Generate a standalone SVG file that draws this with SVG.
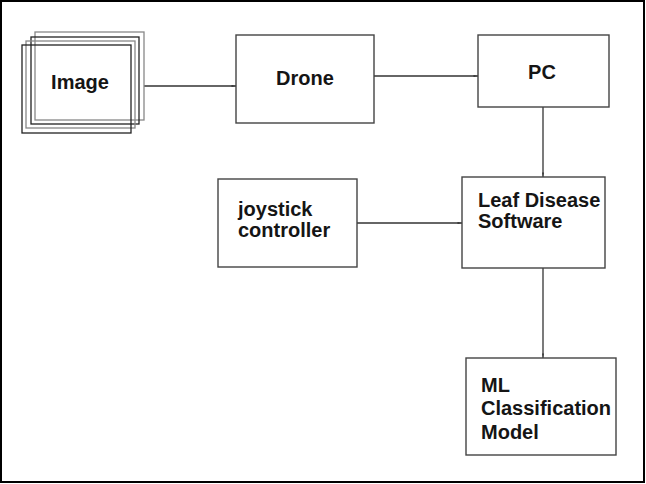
<svg xmlns="http://www.w3.org/2000/svg" width="646" height="484" viewBox="0 0 646 484">
<style>
.box{fill:#fff;stroke:#444;stroke-width:1.4}
.stk{fill:none;stroke-width:1.3}
.t{font-family:"Liberation Sans",Arial,sans-serif;font-weight:bold;font-size:20px;fill:#151515}
.c{stroke:#333;stroke-width:1.3;fill:none;marker-end:url(#ah)}
</style>
<defs>
<marker id="ah" viewBox="0 0 6 4" refX="6" refY="2" markerWidth="5" markerHeight="3" markerUnits="userSpaceOnUse" orient="auto">
<path d="M0,0.8 L6,2 L0,3.2 z" fill="#333"/>
</marker>
</defs>
<rect x="1" y="1" width="643" height="481" fill="#fff" stroke="#000" stroke-width="2"/>
<g id="connectors">
<line class="c" x1="144" y1="86" x2="236" y2="86"/>
<line class="c" x1="374" y1="76" x2="478" y2="76"/>
<line class="c" x1="543" y1="107" x2="543" y2="177"/>
<line class="c" x1="357" y1="223" x2="462" y2="223"/>
<line class="c" x1="543" y1="268" x2="543" y2="358"/>
</g>
<g id="image">
<rect class="stk" x="35" y="32" width="109" height="88" stroke="#888"/>
<rect class="stk" x="31" y="37" width="108" height="87" stroke="#222"/>
<rect class="stk" x="26" y="41" width="109" height="87" stroke="#888"/>
<rect class="stk" x="22" y="45" width="109" height="88" stroke="#222"/>
<text class="t" x="80" y="89" text-anchor="middle">Image</text>
</g>
<g id="drone">
<rect class="box" x="236" y="35" width="138" height="88"/>
<text class="t" x="305" y="85" text-anchor="middle">Drone</text>
</g>
<g id="pc">
<rect class="box" x="478" y="35" width="131" height="72"/>
<text class="t" x="542" y="79" text-anchor="middle">PC</text>
</g>
<g id="joystick">
<rect class="box" x="218" y="179" width="139" height="88"/>
<text class="t" x="238" y="216">joystick</text>
<text class="t" x="238" y="237">controller</text>
</g>
<g id="leaf">
<rect class="box" x="462" y="177" width="143" height="91"/>
<text class="t" x="478" y="207">Leaf Disease</text>
<text class="t" x="478" y="228">Software</text>
</g>
<g id="ml">
<rect class="box" x="466" y="358" width="150" height="97"/>
<text class="t" x="481" y="392">ML</text>
<text class="t" x="481" y="415">Classification</text>
<text class="t" x="481" y="439">Model</text>
</g>
</svg>
